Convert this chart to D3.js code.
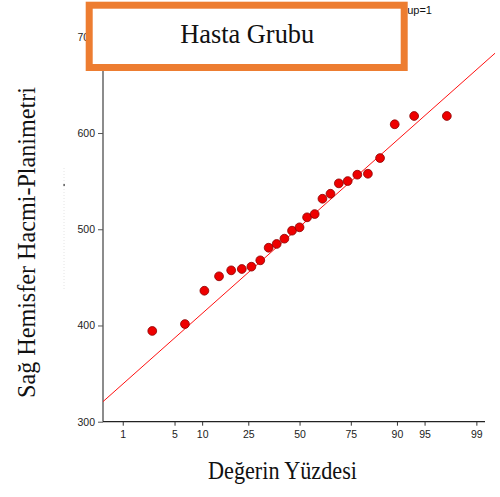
<!DOCTYPE html>
<html>
<head>
<meta charset="utf-8">
<script src="https://cdn.jsdelivr.net/npm/d3@7"></script>
<style>
  html, body { margin: 0; padding: 0; background: #fff; }
  svg { display: block; }
</style>
</head>
<body>
<script>
// Right hemisphere volume (planimetry), patient group, sorted ascending
const volumes = [394.3, 401.5, 436.1, 451.1, 457.3, 458.7, 461.1, 467.7, 480.8, 484.7,
                 490.2, 498.5, 502.0, 512.4, 515.8, 531.7, 536.9, 547.7, 550.1, 556.7,
                 557.7, 574.0, 609.1, 617.7, 617.7];
// Percentile tick labels of the probability axis
const percentTicks = [1, 5, 10, 25, 50, 75, 90, 95, 99];
const valueTicks = [300, 400, 500, 600, 700];
// Reference normal line: centre and spread
const refLine = { mean: 502.4, sd: 70.2 };

const W = 500, H = 497;
const svg = d3.select("body").append("svg").attr("width", W).attr("height", H);

// inverse normal CDF (Acklam)
function probit(p) {
  const a = [-39.69683028665376, 220.9460984245205, -275.9285104469687, 138.3577518672690, -30.66479806614716, 2.506628277459239];
  const b = [-54.47609879822406, 161.5858368580409, -155.6989798598866, 66.80131188771972, -13.28068155288572];
  const c = [-0.007784894002430293, -0.3223964580411365, -2.400758277161838, -2.549732539343734, 4.374664141464968, 2.938163982698783];
  const d = [0.007784695709041462, 0.3224671290700398, 2.445134137142996, 3.754408661907416];
  const pl = 0.02425, ph = 1 - pl;
  let q, r;
  if (p < pl) {
    q = Math.sqrt(-2 * Math.log(p));
    return (((((c[0]*q+c[1])*q+c[2])*q+c[3])*q+c[4])*q+c[5]) / ((((d[0]*q+d[1])*q+d[2])*q+d[3])*q+1);
  }
  if (p <= ph) {
    q = p - 0.5; r = q * q;
    return (((((a[0]*r+a[1])*r+a[2])*r+a[3])*r+a[4])*r+a[5])*q / (((((b[0]*r+b[1])*r+b[2])*r+b[3])*r+b[4])*r+1);
  }
  q = Math.sqrt(-2 * Math.log(1 - p));
  return -(((((c[0]*q+c[1])*q+c[2])*q+c[3])*q+c[4])*q+c[5]) / ((((d[0]*q+d[1])*q+d[2])*q+d[3])*q+1);
}

// scales: x in normal-score units, y in volume
const x = d3.scaleLinear().domain([-2.586, 2.44]).range([103, 485]);
const y = d3.scaleLinear().domain([300, 700]).range([421.7, 36.8]);

const font = "'Liberation Sans', Arial, sans-serif";
const serif = "'Liberation Serif', 'Times New Roman', serif";

// faint leftover guide next to the axis
svg.append("line").attr("x1", 64).attr("x2", 64).attr("y1", 168).attr("y2", 290)
  .attr("stroke", "#e4e4e4").attr("stroke-dasharray", "1,2");
svg.append("rect").attr("x", 63.5).attr("y", 184).attr("width", 1.2).attr("height", 2).attr("fill", "#333");

// Y axis
const yAxis = svg.append("g").attr("transform", "translate(103,0)")
  .call(d3.axisLeft(y).tickValues(valueTicks).tickSize(5).tickPadding(3).tickFormat(d3.format("d")));
yAxis.select(".domain").attr("d", `M0,${y(300)}V${y(705)}`).attr("stroke", "#666").attr("stroke-width", 1.5);
yAxis.selectAll(".tick line").attr("stroke", "#555");
yAxis.selectAll("text").attr("font-family", font).attr("font-size", 10.5).attr("fill", "#222");

// X axis (probability scale)
const xAxis = svg.append("g").attr("transform", `translate(0,${y(300)})`)
  .call(d3.axisBottom(x).tickValues(percentTicks.map(p => probit(p / 100)))
    .tickSize(4).tickPadding(5).tickFormat((d, i) => percentTicks[i]));
xAxis.select(".domain").attr("d", `M${x.range()[0]},0H${x.range()[1]}`).attr("stroke", "#222").attr("stroke-width", 1.2);
xAxis.selectAll(".tick line").attr("stroke", "#333");
xAxis.selectAll("text").attr("font-family", font).attr("font-size", 10.5).attr("fill", "#222");

// reference line
const zEnd = [-2.586, 2.572];
svg.append("line")
  .attr("x1", x(zEnd[0])).attr("y1", y(refLine.mean + refLine.sd * zEnd[0]))
  .attr("x2", x(zEnd[1])).attr("y2", y(refLine.mean + refLine.sd * zEnd[1]))
  .attr("stroke", "#ff1010").attr("stroke-width", 1);

// points at plotting positions (i - 1/3) / (n + 1/3)
const n = volumes.length;
svg.append("g").selectAll("circle").data(volumes).join("circle")
  .attr("cx", (v, i) => x(probit((i + 1 - 1/3) / (n + 1/3))))
  .attr("cy", v => y(v))
  .attr("r", 4.4)
  .attr("fill", "#ee0000").attr("stroke", "#8a0000").attr("stroke-width", 0.8);

// group caption partly hidden by the title box
svg.append("text").attr("x", 432).attr("y", 14).attr("text-anchor", "end")
  .attr("font-family", font).attr("font-size", 11).attr("fill", "#111").text("Group=1");

// axis titles
svg.append("text").attr("x", 282.5).attr("y", 479).attr("text-anchor", "middle")
  .attr("font-family", serif).attr("font-size", 25).attr("fill", "#111")
  .attr("textLength", 149).attr("lengthAdjust", "spacingAndGlyphs")
  .text("Değerin Yüzdesi");

svg.append("text").attr("transform", "translate(35,242.5) rotate(-90)").attr("text-anchor", "middle")
  .attr("font-family", serif).attr("font-size", 26).attr("fill", "#111")
  .attr("textLength", 311).attr("lengthAdjust", "spacingAndGlyphs")
  .text("Sağ Hemisfer Hacmi-Planimetri");

// title box
svg.append("rect").attr("x", 89.2).attr("y", 5.2).attr("width", 315).attr("height", 62.3)
  .attr("fill", "#fff").attr("stroke", "#ED7D31").attr("stroke-width", 7);
svg.append("text").attr("x", 247.2).attr("y", 42.7).attr("text-anchor", "middle")
  .attr("font-family", serif).attr("font-size", 27).attr("fill", "#111")
  .attr("textLength", 134).attr("lengthAdjust", "spacingAndGlyphs")
  .text("Hasta Grubu");
</script>
</body>
</html>
